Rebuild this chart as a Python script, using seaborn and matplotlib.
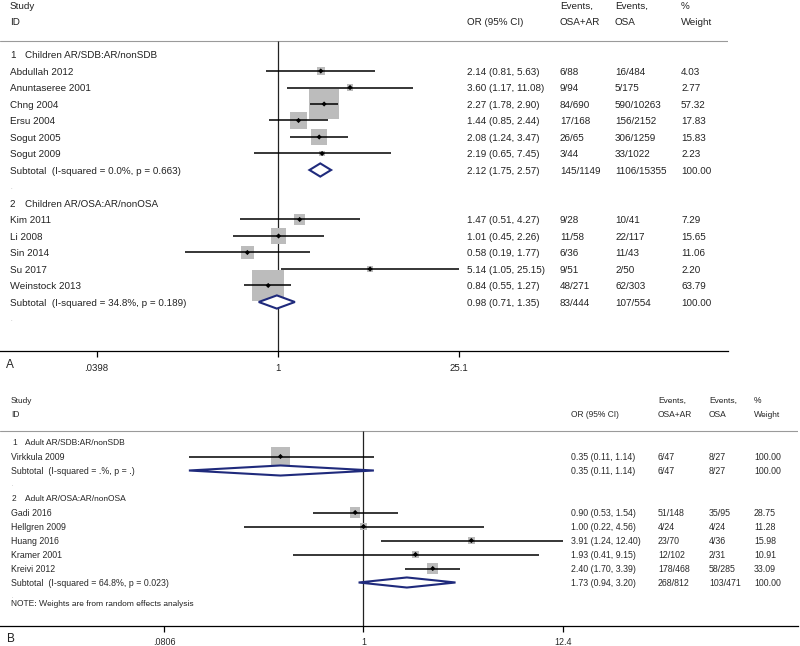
import numpy as np
import pandas as pd
import matplotlib
matplotlib.use("Agg")
import matplotlib.pyplot as plt
import matplotlib.transforms as mtransforms
from matplotlib.patches import Polygon
from matplotlib.ticker import NullLocator, FixedLocator, FixedFormatter
import seaborn as sns

# ---------------- data: panel A ----------------
a_group_names = ["Children AR/SDB:AR/nonSDB", "Children AR/OSA:AR/nonOSA"]
a_study = ["Abdullah 2012", "Anuntaseree 2001", "Chng 2004", "Ersu 2004", "Sogut 2005", "Sogut 2009",
           "Kim 2011", "Li 2008", "Sin 2014", "Su 2017", "Weinstock 2013"]
a_group = [0, 0, 0, 0, 0, 0, 1, 1, 1, 1, 1]
a_or = [2.14, 3.60, 2.27, 1.44, 2.08, 2.19, 1.47, 1.01, 0.58, 5.14, 0.84]
a_lo = [0.81, 1.17, 1.78, 0.85, 1.24, 0.65, 0.51, 0.45, 0.19, 1.05, 0.55]
a_hi = [5.63, 11.08, 2.90, 2.44, 3.47, 7.45, 4.27, 2.26, 1.77, 25.15, 1.27]
a_ev1 = ["6/88", "9/94", "84/690", "17/168", "26/65", "3/44", "9/28", "11/58", "6/36", "9/51", "48/271"]
a_ev2 = ["16/484", "5/175", "590/10263", "156/2152", "306/1259", "33/1022", "10/41", "22/117", "11/43", "2/50", "62/303"]
a_wt = [4.03, 2.77, 57.32, 17.83, 15.83, 2.23, 7.29, 15.65, 11.06, 2.20, 63.79]
a_sub_label = ["Subtotal  (I-squared = 0.0%, p = 0.663)", "Subtotal  (I-squared = 34.8%, p = 0.189)"]
a_sub_or = [2.12, 0.98]
a_sub_lo = [1.75, 0.71]
a_sub_hi = [2.57, 1.35]
a_sub_ev1 = ["145/1149", "83/444"]
a_sub_ev2 = ["1106/15355", "107/554"]
a_sub_wt = [100.00, 100.00]
a_ticks = [0.0398, 1, 25.1]
a_ticklabels = [".0398", "1", "25.1"]

# ---------------- data: panel B ----------------
b_group_names = ["Adult AR/SDB:AR/nonSDB", "Adult AR/OSA:AR/nonOSA"]
b_study = ["Virkkula 2009", "Gadi 2016", "Hellgren 2009", "Huang 2016", "Kramer 2001", "Kreivi 2012"]
b_group = [0, 1, 1, 1, 1, 1]
b_or = [0.35, 0.90, 1.00, 3.91, 1.93, 2.40]
b_lo = [0.11, 0.53, 0.22, 1.24, 0.41, 1.70]
b_hi = [1.14, 1.54, 4.56, 12.40, 9.15, 3.39]
b_ev1 = ["6/47", "51/148", "4/24", "23/70", "12/102", "178/468"]
b_ev2 = ["8/27", "35/95", "4/24", "4/36", "2/31", "58/285"]
b_wt = [100.00, 28.75, 11.28, 15.98, 10.91, 33.09]
b_sub_label = ["Subtotal  (I-squared = .%, p = .)", "Subtotal  (I-squared = 64.8%, p = 0.023)"]
b_sub_or = [0.35, 1.73]
b_sub_lo = [0.11, 0.94]
b_sub_hi = [1.14, 3.20]
b_sub_ev1 = ["6/47", "268/812"]
b_sub_ev2 = ["8/27", "103/471"]
b_sub_wt = [100.00, 100.00]
b_ticks = [0.0806, 1, 12.4]
b_ticklabels = [".0806", "1", "12.4"]
b_note = "NOTE: Weights are from random effects analysis"

header_cols = [("Study", "ID"), ("", "OR (95% CI)"), ("Events,", "OSA+AR"), ("Events,", "OSA"), ("%", "Weight")]

# ---------------- style ----------------
sns.set_theme(style="white")
plt.rcParams["font.family"] = ["Liberation Sans", "DejaVu Sans"]
plt.rcParams["text.hinting"] = "native"
TXT = "#222222"
SQ = "#bcbcbc"
NAVY = "#1f2a7c"

W, H = 800, 646
fig = plt.figure(figsize=(W / 100, H / 100), dpi=100)


def draw_panel(cfg, group_names, study, group, orv, lo, hi, ev1, ev2, wt,
               sub_label, sub_or, sub_lo, sub_hi, sub_ev1, sub_ev2, sub_wt,
               ticks, ticklabels, note=None):
    r0, rh = cfg["row0"], cfg["rowh"]
    c, sc = cfg["center"], cfg["scale"]
    left, right, top, bottom = cfg["box"]
    ax = fig.add_axes([left / W, 1 - bottom / H, (right - left) / W, (bottom - top) / H])
    ax.set_xscale("log")
    row_of = lambda p: (p - r0) / rh

    # assign rows from the group structure
    rows, sub_rows, head_rows, blank_rows = [], [], [], []
    r = 0
    for g in range(len(group_names)):
        head_rows.append(r)
        r += 1
        for i in range(len(study)):
            if group[i] == g:
                rows.append(r)
                r += 1
        sub_rows.append(r)
        r += 1
        blank_rows.append(r)
        r += 1
    note_row = sub_rows[-1] + 1.5

    df = pd.DataFrame({"or": orv, "row": rows, "wt": wt})
    sns.scatterplot(data=df, x="or", y="row", s=np.array(wt) * cfg["sqk"], marker="s",
                    color=SQ, edgecolor="none", linewidth=0, legend=False, ax=ax, zorder=2)
    ax.hlines(rows, lo, hi, color="black", lw=1.1, zorder=3)
    sns.scatterplot(data=df, x="or", y="row", s=7, marker="D", color="black",
                    edgecolor="none", linewidth=0, legend=False, ax=ax, zorder=4)

    for k in range(len(sub_rows)):
        y = sub_rows[k]
        hh = cfg["dh"]
        poly = Polygon([[sub_lo[k], y], [sub_or[k], y - hh], [sub_hi[k], y], [sub_or[k], y + hh]],
                       closed=True, facecolor="white", edgecolor=NAVY, lw=1.5, zorder=5)
        ax.add_patch(poly)

    ylo, yhi = row_of(bottom), row_of(top)
    sep = -0.82
    ax.axhline(sep, color="#9a9a9a", lw=0.8, zorder=1)
    ax.vlines(1, sep, ylo, color="#222222", lw=0.9, zorder=1.5)

    ax.set_xlim(np.exp((left - c) / sc), np.exp((right - c) / sc))
    ax.set_ylim(ylo, yhi)
    ax.set_xlabel("")
    ax.set_ylabel("")
    ax.set_yticks([])
    ax.xaxis.set_major_locator(FixedLocator(ticks))
    ax.xaxis.set_major_formatter(FixedFormatter(ticklabels))
    ax.xaxis.set_minor_locator(NullLocator())
    ax.tick_params(axis="x", bottom=True, length=4.3, width=0.9, color="black",
                   labelsize=cfg["ticksize"], labelcolor=TXT, pad=cfg["tickpad"])
    for s in ["top", "left", "right"]:
        ax.spines[s].set_visible(False)
    ax.spines["bottom"].set_color("black")
    ax.spines["bottom"].set_linewidth(0.9)
    ax.patch.set_alpha(0)

    base = mtransforms.blended_transform_factory(fig.transFigure, ax.transData)
    X = lambda p: p / W

    def put(xp, yr, s, size, color=TXT):
        # baseline placed so that capital letters are centred on the row
        tr = base + mtransforms.ScaledTranslation(0, -0.358 * size / 72, fig.dpi_scale_trans)
        ax.text(X(xp), yr, s, transform=tr, fontsize=size, color=color, va="baseline", ha="left")

    fs, hfs, gfs = cfg["fs"], cfg["hfs"], cfg["gfs"]
    cx = cfg["cols"]
    # header
    for (t1, t2), xp in zip(header_cols, [cx["label"]] + cx["data"]):
        if t1:
            put(xp, -3.0, t1, hfs)
        put(xp, -2.03, t2, hfs)
    # group headings
    for g, yr in enumerate(head_rows):
        put(cx["num"], yr, str(g + 1), gfs)
        put(cx["gtext"], yr, group_names[g], gfs)
    for yr in blank_rows:
        put(cx["label"], yr, ".", fs * 0.6, "#bbbbbb")
    # studies
    for i in range(len(study)):
        yr = rows[i]
        vals = [f"{orv[i]:.2f} ({lo[i]:.2f}, {hi[i]:.2f})", ev1[i], ev2[i], f"{wt[i]:.2f}"]
        put(cx["label"], yr, study[i], fs)
        for v, xp in zip(vals, cx["data"]):
            put(xp, yr, v, fs)
    for k in range(len(sub_rows)):
        yr = sub_rows[k]
        vals = [f"{sub_or[k]:.2f} ({sub_lo[k]:.2f}, {sub_hi[k]:.2f})", sub_ev1[k], sub_ev2[k], f"{sub_wt[k]:.2f}"]
        put(cx["label"], yr, sub_label[k], fs)
        for v, xp in zip(vals, cx["data"]):
            put(xp, yr, v, fs)
    if note:
        put(cx["label"], note_row, note, gfs)
    return ax


cfgA = dict(row0=54.5, rowh=16.5, center=278.0, scale=56.25, box=(0, 728, 0, 351),
            sqk=8.3, dh=0.40, fs=7.1, hfs=7.1, gfs=7.1, ticksize=6.9, tickpad=5.0,
            cols=dict(label=10, num=10, gtext=25, data=[467, 560, 615, 681]))
cfgB = dict(row0=442.5, rowh=14.0, center=363.5, scale=79.1, box=(0, 798, 385, 626),
            sqk=1.9, dh=0.36, fs=6.4, hfs=6.0, gfs=6.0, ticksize=6.5, tickpad=4.5,
            cols=dict(label=11, num=12, gtext=25, data=[571, 658, 709, 754]))

draw_panel(cfgA, a_group_names, a_study, a_group, a_or, a_lo, a_hi, a_ev1, a_ev2, a_wt,
           a_sub_label, a_sub_or, a_sub_lo, a_sub_hi, a_sub_ev1, a_sub_ev2, a_sub_wt,
           a_ticks, a_ticklabels)
draw_panel(cfgB, b_group_names, b_study, b_group, b_or, b_lo, b_hi, b_ev1, b_ev2, b_wt,
           b_sub_label, b_sub_or, b_sub_lo, b_sub_hi, b_sub_ev1, b_sub_ev2, b_sub_wt,
           b_ticks, b_ticklabels, note=b_note)

fig.text(6 / W, 1 - 365 / H, "A", fontsize=8.5, color=TXT, va="center", ha="left")
fig.text(6 / W, 1 - 638 / H, "B", fontsize=8.5, color=TXT, va="center", ha="left")

fig.savefig("out.png", dpi=100, facecolor="white")
